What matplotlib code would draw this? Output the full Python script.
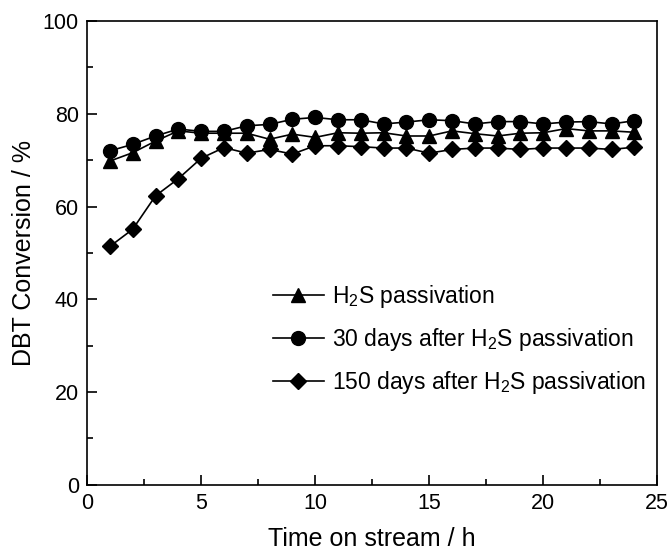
import matplotlib
matplotlib.use("Agg")
import matplotlib.pyplot as plt
from matplotlib.ticker import MultipleLocator

plt.rcParams["font.family"] = ["Liberation Sans", "DejaVu Sans"]
plt.rcParams["mathtext.fontset"] = "custom"
plt.rcParams["mathtext.rm"] = "Liberation Sans"

# time on stream (h)
hours = list(range(1, 25))

# DBT conversion (%)
h2s = [69.8, 71.6, 74.1, 76.3, 75.8, 75.8, 75.8, 74.5, 75.6, 74.9, 75.9, 75.8,
       75.9, 75.2, 75.2, 76.3, 75.7, 75.2, 75.8, 75.9, 76.8, 76.3, 76.3, 76.0]
days30 = [72.0, 73.4, 75.2, 76.7, 76.2, 76.2, 77.4, 77.7, 78.8, 79.2, 78.7, 78.7,
          77.8, 78.2, 78.7, 78.5, 77.8, 78.3, 78.3, 77.8, 78.2, 78.3, 77.8, 78.5]
days150 = [51.4, 55.1, 62.3, 66.0, 70.4, 72.7, 71.5, 72.3, 71.3, 73.1, 73.1, 72.9,
           72.6, 72.6, 71.5, 72.3, 72.6, 72.6, 72.3, 72.6, 72.6, 72.6, 72.3, 72.8]

labels = [r"H$_2$S passivation",
          r"30 days after H$_2$S passivation",
          r"150 days after H$_2$S passivation"]

fig = plt.figure(figsize=(6.7, 5.51), dpi=100)
ax = fig.add_axes([0.13, 0.12, 0.851, 0.842])

ax.plot(hours, h2s, "k-^", lw=1.2, ms=10, label=labels[0])
ax.plot(hours, days30, "k-o", lw=1.2, ms=10, label=labels[1])
ax.plot(hours, days150, "k-D", lw=1.2, ms=8.5, label=labels[2])

ax.set_xlim(0, 25)
ax.set_ylim(0, 100)
ax.xaxis.set_major_locator(MultipleLocator(5))
ax.xaxis.set_minor_locator(MultipleLocator(2.5))
ax.yaxis.set_major_locator(MultipleLocator(20))
ax.yaxis.set_minor_locator(MultipleLocator(10))
ax.tick_params(which="both", direction="in", labelsize=15.5, width=1.2, pad=6)
ax.tick_params(which="major", length=7)
ax.tick_params(which="minor", length=4.3)
for s in ax.spines.values():
    s.set_linewidth(1.2)

ax.set_xlabel("Time on stream / h", fontsize=18, labelpad=9)
ax.set_ylabel("DBT Conversion / %", fontsize=18, labelpad=5)

ax.legend(loc="center left", bbox_to_anchor=(0.289, 0.3125), frameon=False,
          fontsize=16.5, handlelength=2.25, handletextpad=0.35, labelspacing=0.7)

fig.savefig("out.png", dpi=100)
